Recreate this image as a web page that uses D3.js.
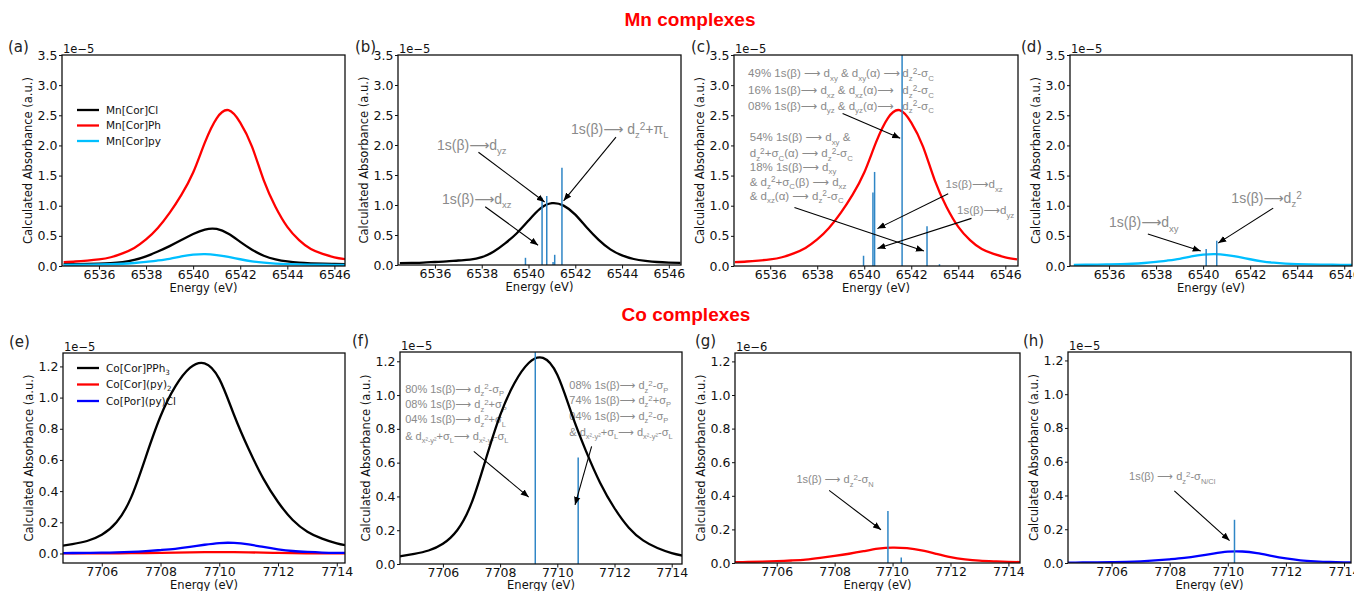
<!DOCTYPE html>
<html>
<head>
<meta charset="utf-8">
<script src="https://cdn.jsdelivr.net/npm/d3@7/dist/d3.min.js"></script>
<style>
  body { margin: 0; background: #fff; }
  svg { display: block; }
  text { white-space: pre; }
</style>
</head>
<body>
<svg id="fig" width="1354" height="591"></svg>
<script>
// ---- data (absorbance in units of the axis exponent) ----
const mnE = [6534.5, 6535, 6535.5, 6536, 6536.5, 6537, 6537.5, 6538, 6538.5, 6539, 6539.5, 6540, 6540.5,
             6541, 6541.5, 6542, 6542.5, 6543, 6543.5, 6544, 6544.5, 6545, 6545.5, 6546, 6546.5];
const mnCorCl = [0.03, 0.032, 0.035, 0.04, 0.048, 0.065, 0.10, 0.16, 0.24, 0.33, 0.43, 0.53, 0.605,
                 0.615, 0.535, 0.40, 0.27, 0.17, 0.11, 0.075, 0.055, 0.045, 0.038, 0.034, 0.03];
const mnCorPh = [0.065, 0.075, 0.09, 0.11, 0.145, 0.21, 0.30, 0.44, 0.63, 0.88, 1.18, 1.55, 2.05,
                 2.45, 2.585, 2.38, 1.98, 1.42, 0.98, 0.65, 0.43, 0.28, 0.20, 0.145, 0.11];
const mnCorPy = [0.02, 0.021, 0.023, 0.026, 0.03, 0.037, 0.05, 0.068, 0.092, 0.12, 0.158, 0.188, 0.198,
                 0.182, 0.15, 0.112, 0.078, 0.055, 0.04, 0.031, 0.026, 0.023, 0.021, 0.02, 0.02];
const mnCorClCalc = [0.03, 0.035, 0.04, 0.05, 0.06, 0.075, 0.09, 0.13, 0.22, 0.36, 0.53, 0.74, 0.94,
                     1.03, 0.99, 0.84, 0.62, 0.42, 0.26, 0.16, 0.10, 0.07, 0.05, 0.04, 0.035];

const coE = [7704.5, 7705, 7705.5, 7706, 7706.5, 7707, 7707.5, 7708, 7708.5, 7709, 7709.5,
             7710, 7710.5, 7711, 7711.5, 7712, 7712.5, 7713, 7713.5, 7714, 7714.5];
const coCorPPh3 = [0.045, 0.06, 0.08, 0.12, 0.20, 0.36, 0.62, 0.88, 1.07, 1.19, 1.22,
                   1.12, 0.89, 0.67, 0.48, 0.33, 0.215, 0.14, 0.095, 0.065, 0.045];
const coCorPy2 = [0.0005, 0.0006, 0.0008, 0.0011, 0.0015, 0.002, 0.003, 0.0042, 0.0055, 0.007, 0.0085,
                  0.0092, 0.0088, 0.0075, 0.0055, 0.0035, 0.0022, 0.0014, 0.001, 0.0007, 0.0005];
const coCorPy2e6 = [0.005, 0.006, 0.008, 0.011, 0.015, 0.02, 0.03, 0.042, 0.055, 0.07, 0.085,
                    0.092, 0.088, 0.075, 0.055, 0.035, 0.022, 0.014, 0.01, 0.007, 0.005];
const coPorPyCl = [0.002, 0.003, 0.004, 0.005, 0.007, 0.01, 0.015, 0.022, 0.03, 0.042, 0.056,
                   0.067, 0.068, 0.058, 0.042, 0.027, 0.016, 0.01, 0.006, 0.004, 0.003];

// stick spectra (transition energies / intensities)
const sticksB = { e: [6539.87, 6540.58, 6540.78, 6541.05, 6541.12, 6541.43], v: [0.12, 1.12, 1.15, 0.05, 0.17, 1.62] };
const sticksC = { e: [6539.97, 6540.37, 6540.44, 6541.61, 6542.67, 6543.2], v: [0.17, 1.22, 1.56, 3.6, 0.66, 0.03] };
const sticksD = { e: [6540.13, 6540.58], v: [0.28, 0.42] };
const sticksF = { e: [7709.23, 7710.73], v: [1.3, 0.63] };
const sticksG = { e: [7709.84, 7710.3], v: [0.31, 0.033] };
const sticksH = { e: [7710.23], v: [0.256] };

const mnXTicks = [6536, 6538, 6540, 6542, 6544, 6546];
const coXTicks = [7706, 7708, 7710, 7712, 7714];
const mnYTicks = [0, 0.5, 1.0, 1.5, 2.0, 2.5, 3.0, 3.5];
const coYTicks = [0, 0.2, 0.4, 0.6, 0.8, 1.0, 1.2];

const mnLegend = ["Mn[Cor]Cl", "Mn[Cor]Ph", "Mn[Cor]py"];
const coLegend = ["Co[Cor]PPh_{3}", "Co[Cor](py)_{2}", "Co[Por](py)Cl"];

// ---- layout ----
const BLACK = "#000", RED = "#ff0000", CYAN = "#00bfff", BLUE = "#0000ff", STICK = "#2f86c6", GREY = "#8a8a8a";
const TICKF = "DejaVu Sans, sans-serif", ANNF = "Liberation Sans, Arial, DejaVu Sans, sans-serif";

const panels = [
  { lab: "(a)", labPos: [8, 52], box: [62, 55, 345, 266], xd: [6534.43, 6546.45], yd: [0, 3.5], xt: mnXTicks, yt: mnYTicks, exp: "1e−5",
    curves: [[mnE, mnCorCl, BLACK], [mnE, mnCorPh, RED], [mnE, mnCorPy, CYAN]],
    legend: { x: 77, y: 110, dy: 15.5, items: mnLegend, colors: [BLACK, RED, CYAN] } },
  { lab: "(b)", labPos: [355, 52], box: [398, 55, 681, 265], xd: [6534.42, 6546.52], yd: [0, 3.5], xt: mnXTicks, yt: mnYTicks, exp: "1e−5",
    curves: [[mnE, mnCorClCalc, BLACK]], sticks: sticksB,
    notes: [
      { t: "1s(β)⟶d_{yz}", at: [6536.09, 1.92], s: 14, arrow: [[6537.86, 1.88], [6540.69, 1.05]] },
      { t: "1s(β)⟶d_{xz}", at: [6536.3, 1.02], s: 14, arrow: [[6538.15, 0.97], [6540.41, 0.33]] },
      { t: "1s(β)⟶ d_{z}^{2}+π_{L}", at: [6541.82, 2.18], s: 14, arrow: [[6543.74, 2.13], [6541.5, 1.07]] }
    ] },
  { lab: "(c)", labPos: [691, 52], box: [734, 55, 1018, 266], xd: [6534.46, 6546.54], yd: [0, 3.5], xt: mnXTicks, yt: mnYTicks, exp: "1e−5",
    curves: [[mnE, mnCorPh, RED]], sticks: sticksC,
    notes: [
      { t: "49% 1s(β) ⟶ d_{xy} & d_{xy}(α) ⟶", at: [6535.06, 3.13], s: 11.5 },
      { t: "d_{z}^{2}-σ_{C}", at: [6541.62, 3.13], s: 11.5 },
      { t: "16% 1s(β)⟶ d_{xz} & d_{xz}(α)⟶", at: [6535.06, 2.85], s: 11.5 },
      { t: "d_{z}^{2}-σ_{C}", at: [6541.62, 2.85], s: 11.5 },
      { t: "08% 1s(β)⟶ d_{yz} & d_{yz}(α)⟶", at: [6535.06, 2.59], s: 11.5 },
      { t: "d_{z}^{2}-σ_{C}", at: [6541.62, 2.59], s: 11.5, arrow: [[6539.08, 2.53], [6541.53, 2.12]] },
      { t: "54% 1s(β) ⟶ d_{xy} &", at: [6535.13, 2.07], s: 11.5 },
      { t: "d_{z}^{2}+σ_{C}(α) ⟶ d_{z}^{2}-σ_{C}", at: [6535.13, 1.80], s: 11.5 },
      { t: "18% 1s(β)⟶ d_{xy}", at: [6535.13, 1.58], s: 11.5 },
      { t: "& d_{z}^{2}+σ_{C}(β) ⟶ d_{xz}", at: [6535.13, 1.33], s: 11.5 },
      { t: "& d_{xz}(α) ⟶ d_{z}^{2}-σ_{C}", at: [6535.13, 1.10], s: 11.5, arrow: [[6537.03, 0.97], [6542.54, 0.25]] },
      { t: "1s(β)⟶d_{xz}", at: [6543.46, 1.29], s: 11.5, arrow: [[6543.57, 1.2], [6540.56, 0.62]] },
      { t: "1s(β)⟶d_{yz}", at: [6543.95, 0.86], s: 11.5, arrow: [[6544.56, 0.79], [6540.56, 0.29]] }
    ] },
  { lab: "(d)", labPos: [1021, 52], box: [1070, 55, 1352, 266], xd: [6534.34, 6546.33], yd: [0, 3.5], xt: mnXTicks, yt: mnYTicks, exp: "1e−5",
    curves: [[mnE, mnCorPy, CYAN]], sticks: sticksD,
    notes: [
      { t: "1s(β)⟶d_{xy}", at: [6536.0, 0.64], s: 14, arrow: [[6537.65, 0.53], [6539.9, 0.25]] },
      { t: "1s(β)⟶d_{z}^{2}", at: [6541.2, 1.045], s: 14, arrow: [[6542.98, 0.96], [6540.64, 0.38]] }
    ] },
  { lab: "(e)", labPos: [9, 347], box: [63, 353, 345, 563], xd: [7704.68, 7714.28], yd: [-0.061, 1.286], xt: coXTicks, yt: coYTicks, exp: "1e−5",
    curves: [[coE, coCorPPh3, BLACK], [coE, coCorPy2, RED], [coE, coPorPyCl, BLUE]],
    legend: { x: 77, y: 368, dy: 16.5, items: coLegend, colors: [BLACK, RED, BLUE] } },
  { lab: "(f)", labPos: [352, 346], box: [400, 352, 682, 564], xd: [7704.5, 7714.36], yd: [0, 1.255], xt: coXTicks, yt: coYTicks, exp: "1e−5",
    curves: [[coE, coCorPPh3, BLACK]], sticks: sticksF,
    notes: [
      { t: "80% 1s(β)⟶ d_{z}^{2}-σ_{P}", at: [7704.68, 1.015], s: 11 },
      { t: "08% 1s(β)⟶ d_{z}^{2}+σ_{P}", at: [7704.68, 0.922], s: 11 },
      { t: "04% 1s(β)⟶ d_{z}^{2}+σ_{L}", at: [7704.68, 0.833], s: 11 },
      { t: "& d_{x²-y²}+σ_{L}⟶ d_{x²-y²}-σ_{L}", at: [7704.68, 0.734], s: 11, arrow: [[7707.08, 0.667], [7709.0, 0.396]] },
      { t: "08% 1s(β)⟶ d_{z}^{2}-σ_{P}", at: [7710.42, 1.034], s: 11 },
      { t: "74% 1s(β)⟶ d_{z}^{2}+σ_{P}", at: [7710.42, 0.948], s: 11 },
      { t: "04% 1s(β)⟶ d_{z}^{2}-σ_{P}", at: [7710.42, 0.853], s: 11 },
      { t: "& d_{x²-y²}+σ_{L}⟶ d_{x²-y²}-σ_{L}", at: [7710.42, 0.76], s: 11, arrow: [[7711.2, 0.696], [7710.62, 0.35]] }
    ] },
  { lab: "(g)", labPos: [695, 346], box: [735, 353, 1020, 563], xd: [7704.56, 7714.4], yd: [0, 1.25], xt: coXTicks, yt: coYTicks, exp: "1e−6",
    curves: [[coE, coCorPy2e6, RED]], sticks: sticksG,
    notes: [
      { t: "1s(β) ⟶ d_{z}^{2}-σ_{N}", at: [7706.68, 0.474], s: 11, arrow: [[7707.81, 0.432], [7709.6, 0.198]] }
    ] },
  { lab: "(h)", labPos: [1023, 346], box: [1068, 352, 1351, 563], xd: [7704.5, 7714.24], yd: [0, 1.25], xt: coXTicks, yt: coYTicks, exp: "1e−5",
    curves: [[coE, coPorPyCl, BLUE]], sticks: sticksH,
    notes: [
      { t: "1s(β) ⟶ d_{z}^{2}-σ_{N/Cl}", at: [7706.6, 0.49], s: 11, arrow: [[7708.16, 0.427], [7710.06, 0.133]] }
    ] }
];

const svg = d3.select("#fig");

svg.append("defs").append("marker")
  .attr("id", "head").attr("viewBox", "0 0 10 10")
  .attr("refX", 10).attr("refY", 5)
  .attr("markerWidth", 8).attr("markerHeight", 8)
  .attr("markerUnits", "userSpaceOnUse")
  .attr("orient", "auto")
  .append("path").attr("d", "M0,1 L10,5 L0,9 z").attr("fill", "#000");

// text with _{sub} and ^{sup} pieces
function rich(g, str, x, y, size, color, family) {
  const t = g.append("text").attr("x", x).attr("y", y)
    .attr("font-size", size).attr("fill", color).attr("font-family", family);
  const parts = str.split(/(_\{[^}]*\}|\^\{[^}]*\})/).filter(p => p.length);
  let cur = 0;
  parts.forEach(p => {
    let txt = p, shift = 0, fs = size;
    if (p.startsWith("_{")) { txt = p.slice(2, -1); shift = size * 0.3; fs = size * 0.68; }
    else if (p.startsWith("^{")) { txt = p.slice(2, -1); shift = -size * 0.3; fs = size * 0.72; }
    t.append("tspan").attr("dy", shift - cur).attr("font-size", fs).text(txt);
    cur = shift;
  });
  return t;
}

panels.forEach((p, i) => {
  const [x0, y0, x1, y1] = p.box;
  const x = d3.scaleLinear().domain(p.xd).range([x0, x1]);
  const y = d3.scaleLinear().domain(p.yd).range([y1, y0]);
  const g = svg.append("g");

  g.append("clipPath").attr("id", "clip" + i)
    .append("rect").attr("x", x0).attr("y", y0).attr("width", x1 - x0).attr("height", y1 - y0);

  // annotation text sits under the curves
  (p.notes || []).forEach(n => {
    rich(g, n.t, x(n.at[0]), y(n.at[1]), n.s, GREY, ANNF);
  });

  const plot = g.append("g").attr("clip-path", `url(#clip${i})`);
  const line = d3.line().curve(d3.curveNatural);
  p.curves.forEach(([es, vs, col]) => {
    plot.append("path")
      .attr("d", line(es.map((e, k) => [x(e), y(vs[k])])))
      .attr("fill", "none").attr("stroke", col).attr("stroke-width", 2.3);
  });

  if (p.sticks) {
    plot.selectAll(null).data(p.sticks.e).enter().append("line")
      .attr("x1", d => x(d)).attr("x2", d => x(d))
      .attr("y1", y(0)).attr("y2", (d, k) => y(p.sticks.v[k]))
      .attr("stroke", STICK).attr("stroke-width", 1.5);
  }

  (p.notes || []).filter(n => n.arrow).forEach(n => {
    const [a, b] = n.arrow;
    g.append("line")
      .attr("x1", x(a[0])).attr("y1", y(a[1])).attr("x2", x(b[0])).attr("y2", y(b[1]))
      .attr("stroke", "#000").attr("stroke-width", 1.1).attr("marker-end", "url(#head)");
  });

  // axes
  const xa = g.append("g").attr("transform", `translate(0,${y1})`)
    .call(d3.axisBottom(x).tickValues(p.xt).tickSize(3.5).tickSizeOuter(0).tickPadding(1).tickFormat(d3.format("d")));
  const ya = g.append("g").attr("transform", `translate(${x0},0)`)
    .call(d3.axisLeft(y).tickValues(p.yt).tickSize(3).tickSizeOuter(0).tickPadding(1.5).tickFormat(d3.format(".1f")));
  [xa, ya].forEach(a => {
    a.select(".domain").remove();
    a.selectAll("text").attr("font-size", 12.5).attr("font-family", TICKF).attr("fill", "#111");
    a.selectAll("line").attr("stroke", "#111");
  });

  g.append("rect").attr("x", x0).attr("y", y0).attr("width", x1 - x0).attr("height", y1 - y0)
    .attr("fill", "none").attr("stroke", "#111").attr("stroke-width", 1.3);

  g.append("text").attr("x", x0 + 1).attr("y", y0 - 2.5).attr("font-size", 11.5)
    .attr("font-family", TICKF).attr("fill", "#111").text(p.exp);

  g.append("text").attr("x", (x0 + x1) / 2).attr("y", Math.min(y1 + 26, 588.5)).attr("text-anchor", "middle")
    .attr("font-size", 11.5).attr("font-family", TICKF).attr("fill", "#111").text("Energy (eV)");

  g.append("text").attr("transform", `translate(${x0 - 30},${(y0 + y1) / 2}) rotate(-90)`)
    .attr("text-anchor", "middle").attr("font-size", 11.5).attr("font-family", TICKF).attr("fill", "#111")
    .text("Calculated Absorbance (a.u.)");

  g.append("text").attr("x", p.labPos[0]).attr("y", p.labPos[1]).attr("font-size", 15)
    .attr("font-family", TICKF).attr("fill", "#222").text(p.lab);

  if (p.legend) {
    const L = p.legend;
    L.items.forEach((name, k) => {
      const yy = L.y + k * L.dy;
      g.append("line").attr("x1", L.x).attr("x2", L.x + 22).attr("y1", yy).attr("y2", yy)
        .attr("stroke", L.colors[k]).attr("stroke-width", 2.3);
      rich(g, name, L.x + 29, yy + 3.7, 10.5, "#111", TICKF);
    });
  }
});

svg.append("text").attr("x", 690).attr("y", 26).attr("text-anchor", "middle")
  .attr("font-family", "Liberation Sans, Arial, sans-serif").attr("font-weight", "bold")
  .attr("font-size", 19).attr("fill", "#ff0000").text("Mn complexes");
svg.append("text").attr("x", 686).attr("y", 321).attr("text-anchor", "middle")
  .attr("font-family", "Liberation Sans, Arial, sans-serif").attr("font-weight", "bold")
  .attr("font-size", 19).attr("fill", "#ff0000").text("Co complexes");
</script>
</body>
</html>
